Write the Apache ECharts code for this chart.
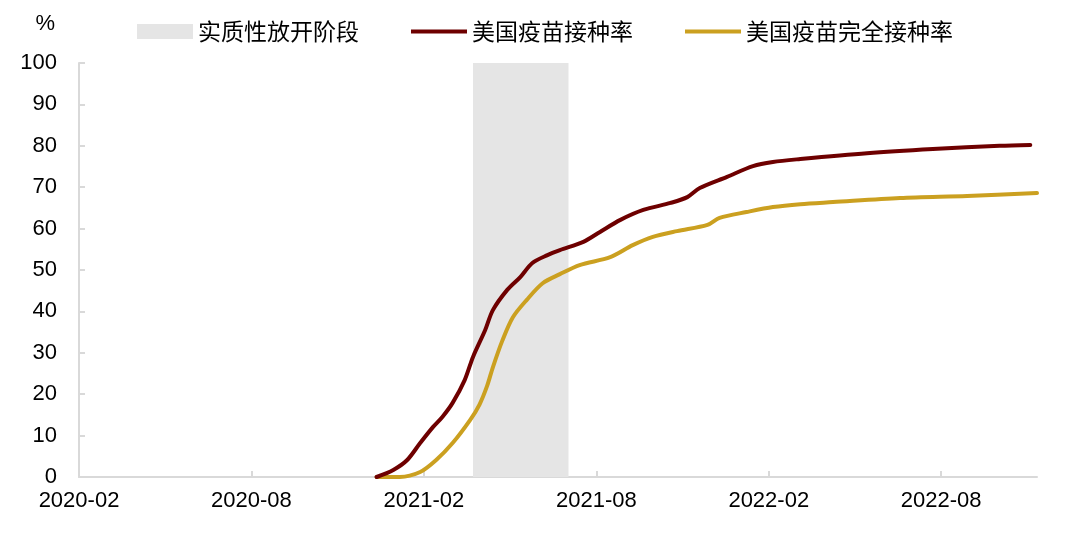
<!DOCTYPE html>
<html>
<head>
<meta charset="utf-8">
<script src="https://cdn.jsdelivr.net/npm/echarts@6/dist/echarts.min.js"></script>
<style>
html,body{margin:0;padding:0;background:#fff;}
#chart{width:1080px;height:545px;}
</style>
</head>
<body>
<div id="chart"></div>
<script>
// ---- data ----
const tickLabels = ['2020-02', '2020-08', '2021-02', '2021-08', '2022-02', '2022-08'];
const axisEndDate = '2022-11-11';
const openingStart = '2021-03-23';
const openingEnd = '2021-07-02';

const seriesNames = ['实质性放开阶段', '美国疫苗接种率', '美国疫苗完全接种率'];

const dose1Dates = ['2020-12-12','2020-12-30','2021-01-14','2021-01-28','2021-02-10','2021-02-19','2021-03-01','2021-03-14','2021-03-23','2021-04-05','2021-04-13','2021-04-28','2021-05-12','2021-05-25','2021-06-10','2021-06-23','2021-07-18','2021-08-05','2021-08-27','2021-09-20','2021-10-19','2021-11-06','2021-11-19','2021-12-18','2022-01-15','2022-02-05','2022-03-04','2022-05-14','2022-07-23','2022-10-02','2022-11-04'];
const dose1Values = [0, 1.7, 4.1, 8.2, 12.1, 14.5, 17.9, 23.4, 29, 35.5, 40.3, 45.2, 48.3, 51.7, 53.6, 54.8, 56.8, 59.2, 62.1, 64.5, 66.2, 67.6, 69.8, 72.5, 75.1, 76.1, 76.8, 78.2, 79.2, 80.0, 80.2];

const fullDates = ['2020-12-12','2021-01-06','2021-01-28','2021-02-13','2021-03-01','2021-03-20','2021-03-30','2021-04-07','2021-04-13','2021-04-23','2021-05-04','2021-05-19','2021-06-05','2021-06-23','2021-07-14','2021-08-16','2021-09-09','2021-09-30','2021-10-26','2021-11-27','2021-12-10','2022-01-08','2022-02-05','2022-03-04','2022-04-08','2022-06-18','2022-08-29','2022-11-11'];
const fullValues = [0, 0, 1.2, 4.1, 8.2, 13.8, 17.5, 22, 26.5, 33, 38.6, 42.8, 46.8, 49, 51.2, 53.1, 56, 58, 59.4, 60.9, 62.6, 64, 65.2, 65.9, 66.4, 67.4, 67.9, 68.6];

// ---- helpers ----
function monthIndex(s) {
  const p = s.split('-').map(Number);
  const y = p[0], m = p[1], d = p[2] || 1;
  const dim = new Date(y, m, 0).getDate();
  return (y - 2020) * 12 + (m - 2) + (d - 1) / dim;
}
function pairs(dates, vals) { return dates.map((d, i) => [monthIndex(d), vals[i]]); }

const tickValues = tickLabels.map(t => monthIndex(t));
const labelMap = {};
tickLabels.forEach((t, i) => { labelMap[tickValues[i].toFixed(3)] = t; });

const FONT = "'Liberation Sans', Arial, 'Noto Sans CJK SC', sans-serif";
const CJK = "'Noto Sans CJK SC', 'Liberation Sans', sans-serif";
const AXIS = '#d9d9d9';
const C1 = '#6e0000';
const C2 = '#cba020';
const LINE_ICON = 'path://M0,0 L56,0 L56,4 L0,4 Z';

const chart = echarts.init(document.getElementById('chart'), null, {renderer: 'canvas'});
chart.setOption({
  animation: false,
  backgroundColor: '#fff',
  textStyle: {fontFamily: FONT, color: '#000'},
  grid: {left: 79, right: 43, top: 63, bottom: 68, containLabel: false},
  legend: {
    top: 20, left: 137, padding: 0,
    itemWidth: 56, itemHeight: 15, itemGap: 52,
    textStyle: {fontFamily: CJK, fontSize: 23, color: '#000'},
    data: [
      {name: seriesNames[0], icon: 'rect', itemStyle: {color: '#e5e5e5'}},
      {name: seriesNames[1], icon: LINE_ICON, itemStyle: {color: C1}},
      {name: seriesNames[2], icon: LINE_ICON, itemStyle: {color: C2}}
    ]
  },
  xAxis: {
    type: 'value', min: 0, max: monthIndex(axisEndDate),
    splitLine: {show: false},
    axisLine: {show: true, lineStyle: {color: AXIS, width: 2}},
    axisTick: {show: true, inside: true, length: 6, lineStyle: {color: AXIS, width: 2}, customValues: tickValues},
    axisLabel: {
      customValues: tickValues, margin: 13, fontSize: 22, color: '#000', fontFamily: FONT,
      formatter: v => labelMap[Number(v).toFixed(3)] || ''
    }
  },
  yAxis: {
    type: 'value', min: 0, max: 100, interval: 10,
    name: '%', nameLocation: 'end', nameGap: 28,
    nameTextStyle: {fontSize: 22, color: '#000', fontFamily: FONT, align: 'right', padding: [0, 24, 0, 0]},
    splitLine: {show: false},
    axisLine: {show: true, lineStyle: {color: AXIS, width: 2}},
    axisTick: {show: true, inside: true, length: 6, lineStyle: {color: AXIS, width: 2}},
    axisLabel: {margin: 22, fontSize: 22, color: '#000', fontFamily: FONT}
  },
  series: [
    {
      name: seriesNames[0], type: 'line', data: [], symbol: 'none',
      itemStyle: {color: '#e5e5e5'}, lineStyle: {color: '#e5e5e5'},
      z: 1,
      markArea: {
        silent: true,
        itemStyle: {color: '#e5e5e5'},
        data: [[{xAxis: monthIndex(openingStart), yAxis: 0}, {xAxis: monthIndex(openingEnd), yAxis: 100}]]
      }
    },
    {
      name: seriesNames[1], type: 'line', data: pairs(dose1Dates, dose1Values),
      symbol: 'none', smooth: 0.3, z: 3,
      itemStyle: {color: C1}, lineStyle: {color: C1, width: 4, cap: 'round', join: 'round'}
    },
    {
      name: seriesNames[2], type: 'line', data: pairs(fullDates, fullValues),
      symbol: 'none', smooth: 0.3, z: 2,
      itemStyle: {color: C2}, lineStyle: {color: C2, width: 4, cap: 'round', join: 'round'}
    }
  ]
});
</script>
</body>
</html>
